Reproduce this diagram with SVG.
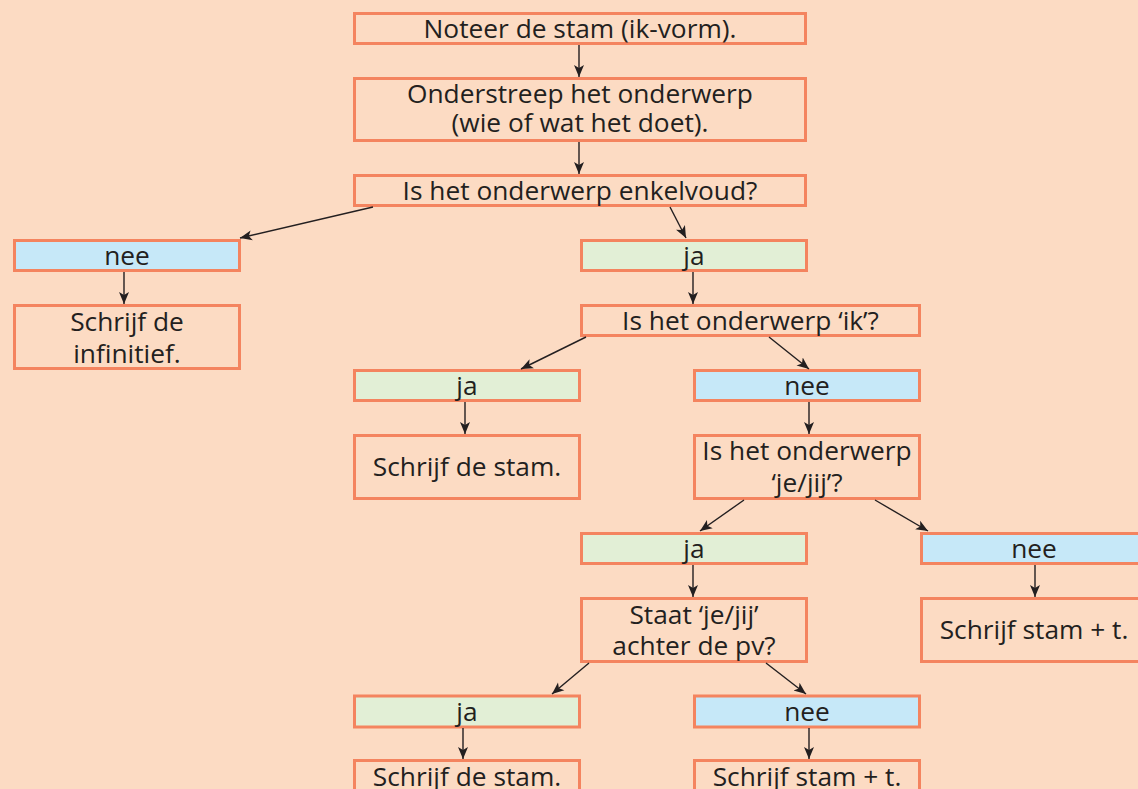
<svg xmlns="http://www.w3.org/2000/svg" width="1138" height="789" viewBox="0 0 1138 789">
<style>
.b{fill:none;stroke:#F4845F;stroke-width:3}
.n{fill:#C6E8F8;stroke:#F4845F;stroke-width:3}
.j{fill:#E2EFD6;stroke:#F4845F;stroke-width:3}
text{font-family:"Open Sans","Noto Sans",sans-serif;font-size:26.3px;fill:#231F20;text-anchor:middle}
.c{stroke:#231F20;stroke-width:1.4;fill:none;marker-end:url(#a)}
</style>
<defs>
<marker id="a" markerUnits="userSpaceOnUse" markerWidth="14" markerHeight="12" refX="12" refY="5" orient="auto" viewBox="0 0 14 10">
<path d="M0,0 L12,5 L0,10 L3,5 Z" fill="#231F20"/>
</marker>
</defs>
<rect width="1138" height="789" fill="#FCDBC3"/>
<g id="n1"><rect class="b" x="354.5" y="13.5" width="451" height="30"/><text x="580" y="38">Noteer de stam (ik-vorm).</text></g>
<g id="n2"><rect class="b" x="354.5" y="78.5" width="451" height="62"/><text x="580" y="103">Onderstreep het onderwerp</text><text x="580" y="132">(wie of wat het doet).</text></g>
<g id="n3"><rect class="b" x="354.5" y="175.5" width="451" height="30"/><text x="580" y="200">Is het onderwerp enkelvoud?</text></g>
<g id="nee1"><rect class="n" x="14.5" y="240.5" width="225" height="30"/><text x="127" y="265">nee</text></g>
<g id="inf"><rect class="b" x="14.5" y="305.5" width="225" height="63"/><text x="127" y="331">Schrijf de</text><text x="127" y="362.5">infinitief.</text></g>
<g id="ja1"><rect class="j" x="581.5" y="240.5" width="225" height="30"/><text x="694" y="265">ja</text></g>
<g id="ik"><rect class="b" x="581.5" y="305.5" width="338" height="30"/><text x="750.5" y="330">Is het onderwerp ‘ik’?</text></g>
<g id="ja2"><rect class="j" x="354.5" y="370.5" width="225" height="30"/><text x="467" y="395">ja</text></g>
<g id="nee2"><rect class="n" x="694.5" y="370.5" width="225" height="30"/><text x="807" y="395">nee</text></g>
<g id="stam1"><rect class="b" x="354.5" y="435.5" width="225" height="63"/><text x="467" y="476">Schrijf de stam.</text></g>
<g id="jejij"><rect class="b" x="694.5" y="435.5" width="225" height="63"/><text x="807" y="460">Is het onderwerp</text><text x="807" y="492">‘je/jij’?</text></g>
<g id="ja3"><rect class="j" x="581.5" y="533.5" width="225" height="30"/><text x="694" y="558">ja</text></g>
<g id="nee3"><rect class="n" x="921.5" y="533.5" width="225" height="30"/><text x="1034" y="558">nee</text></g>
<g id="staat"><rect class="b" x="581.5" y="598.5" width="225" height="63"/><text x="694" y="624">Staat ‘je/jij’</text><text x="694" y="655">achter de pv?</text></g>
<g id="stamt1"><rect class="b" x="921.5" y="598.5" width="225" height="63"/><text x="1034" y="639">Schrijf stam + t.</text></g>
<g id="ja4"><rect class="j" x="354.5" y="696" width="225" height="31"/><text x="467" y="721">ja</text></g>
<g id="nee4"><rect class="n" x="694.5" y="696" width="225" height="31"/><text x="807" y="721">nee</text></g>
<g id="stam2"><rect class="b" x="354.5" y="760.5" width="225" height="63"/><text x="467" y="786">Schrijf de stam.</text></g>
<g id="stamt2"><rect class="b" x="694.5" y="760.5" width="225" height="63"/><text x="807" y="786">Schrijf stam + t.</text></g>
<g id="connectors">
<line class="c" x1="579" y1="45" x2="579" y2="77"/>
<line class="c" x1="579" y1="142" x2="579" y2="174"/>
<line class="c" x1="373" y1="207" x2="240" y2="238"/>
<line class="c" x1="670" y1="207" x2="686" y2="238"/>
<line class="c" x1="124" y1="272" x2="124" y2="304"/>
<line class="c" x1="693" y1="272" x2="693" y2="304"/>
<line class="c" x1="586" y1="337" x2="521" y2="369"/>
<line class="c" x1="769" y1="337" x2="809" y2="369"/>
<line class="c" x1="465" y1="402" x2="465" y2="434"/>
<line class="c" x1="809" y1="402" x2="809" y2="434"/>
<line class="c" x1="744" y1="500" x2="700" y2="531"/>
<line class="c" x1="875" y1="500" x2="928" y2="531"/>
<line class="c" x1="693" y1="565" x2="693" y2="597"/>
<line class="c" x1="1035" y1="565" x2="1035" y2="597"/>
<line class="c" x1="589" y1="663" x2="552" y2="694"/>
<line class="c" x1="766" y1="663" x2="806" y2="694"/>
<line class="c" x1="463" y1="728" x2="463" y2="759"/>
<line class="c" x1="809" y1="728" x2="809" y2="759"/>
</g>
</svg>
